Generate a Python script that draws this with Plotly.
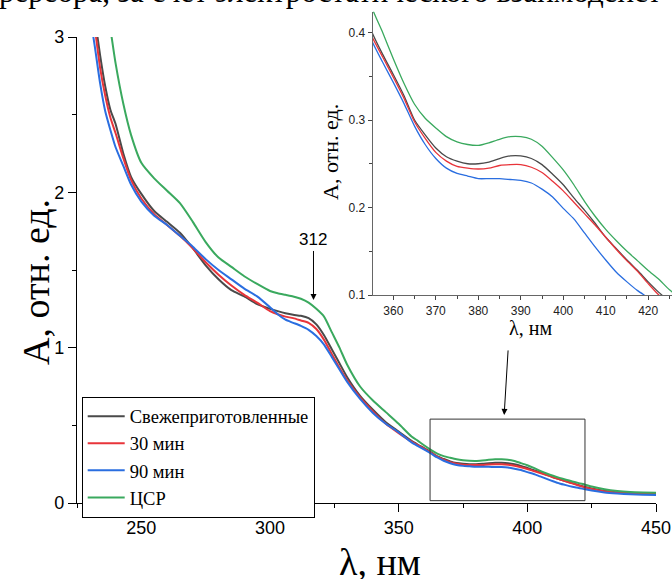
import plotly.graph_objects as go

# ---------------- data ----------------
wavelength = [230, 232, 234, 236, 238, 240, 243, 246, 250, 255, 260, 265, 270, 275, 280, 285, 290, 295,
              300, 303, 306, 309, 312, 315, 318, 321, 324, 327, 330, 335, 340, 345, 350,
              355, 357.5, 360, 362.5, 365, 367.5, 370, 372.5, 375, 377.5, 380, 382.5, 385, 387.5,
              390, 392.5, 395, 397.5, 400, 402.5, 405, 407.5, 410, 412.5, 415, 417.5, 420, 422.5,
              425, 430, 435, 440, 445, 450]

fresh = [3.40, 3.12, 2.88, 2.68, 2.53, 2.44, 2.25, 2.10, 1.99, 1.88, 1.81, 1.74, 1.64, 1.53, 1.44, 1.37, 1.33, 1.28,
         1.25, 1.235, 1.222, 1.212, 1.205, 1.19, 1.15, 1.08, 0.99, 0.90, 0.81, 0.69, 0.60, 0.52, 0.46,
         0.40, 0.375, 0.352, 0.328, 0.300, 0.283, 0.268, 0.258, 0.253, 0.250, 0.250, 0.252, 0.256, 0.259,
         0.259, 0.256, 0.249, 0.238, 0.226, 0.211, 0.197, 0.182, 0.166, 0.153, 0.140, 0.128, 0.115, 0.103,
         0.093, 0.077, 0.068, 0.063, 0.060, 0.058]

min30 = [3.30, 3.05, 2.80, 2.62, 2.48, 2.38, 2.22, 2.08, 1.96, 1.86, 1.79, 1.72, 1.64, 1.55, 1.47, 1.40, 1.34, 1.29,
         1.235, 1.215, 1.20, 1.19, 1.175, 1.16, 1.12, 1.05, 0.96, 0.87, 0.79, 0.68, 0.59, 0.51, 0.45,
         0.395, 0.372, 0.349, 0.325, 0.298, 0.279, 0.263, 0.253, 0.247, 0.245, 0.244, 0.245, 0.248, 0.249,
         0.249, 0.246, 0.240, 0.230, 0.219, 0.206, 0.193, 0.180, 0.166, 0.152, 0.139, 0.127, 0.113, 0.100,
         0.091, 0.076, 0.068, 0.063, 0.061, 0.059]

min90 = [3.15, 2.93, 2.70, 2.52, 2.40, 2.29, 2.17, 2.05, 1.94, 1.85, 1.79, 1.72, 1.65, 1.57, 1.50, 1.44, 1.38, 1.33,
         1.26, 1.215, 1.18, 1.16, 1.14, 1.115, 1.075, 1.02, 0.94, 0.86, 0.78, 0.67, 0.58, 0.51, 0.455,
         0.39, 0.366, 0.343, 0.319, 0.293, 0.272, 0.256, 0.245, 0.239, 0.236, 0.233, 0.233, 0.233, 0.232,
         0.231, 0.228, 0.221, 0.212, 0.199, 0.187, 0.171, 0.155, 0.140, 0.126, 0.115, 0.105, 0.097, 0.088,
         0.080, 0.068, 0.061, 0.056, 0.053, 0.051]

csr = [4.00, 3.70, 3.45, 3.25, 3.05, 2.83, 2.57, 2.37, 2.19, 2.09, 2.01, 1.93, 1.81, 1.68, 1.58, 1.52, 1.46, 1.41,
       1.365, 1.35, 1.34, 1.33, 1.315, 1.29, 1.25, 1.20, 1.10, 1.00, 0.89, 0.75, 0.66, 0.585, 0.51,
       0.428, 0.40, 0.37, 0.342, 0.318, 0.302, 0.291, 0.281, 0.275, 0.272, 0.271, 0.274, 0.278, 0.281,
       0.281, 0.278, 0.270, 0.257, 0.243, 0.226, 0.207, 0.190, 0.175, 0.162, 0.150, 0.139, 0.128, 0.118,
       0.106, 0.088, 0.077, 0.071, 0.068, 0.066]

series_names = ["Свежеприготовленные", "30 мин", "90 мин", "ЦСР"]
series_values = [fresh, min30, min90, csr]
series_colors = ["#4a4a4a", "#e8343a", "#2a6ee0", "#3aa95e"]

main_xticks = [250, 300, 350, 400, 450]
main_yticks = [0, 1, 2, 3]
inset_xticks = [360, 370, 380, 390, 400, 410, 420]
inset_yticks = [0.1, 0.2, 0.3, 0.4]

# ---------------- figure ----------------
W, H = 672, 579
ML, MR, MT, MB = 77, 0, 10, 76
PW, PH = W - ML - MR, H - MT - MB   # 595 x 493


def px(x):   # window pixel -> paper fraction
    return (x - ML) / PW


def py(y):
    return (H - MB - y) / PH


fig = go.Figure()
for name, vals, col in zip(series_names, series_values, series_colors):
    fig.add_trace(go.Scatter(x=wavelength, y=vals, name=name, mode="lines",
                             line=dict(color=col, width=2, shape="spline", smoothing=0.6),
                             xaxis="x", yaxis="y"))
for name, vals, col in zip(series_names, series_values, series_colors):
    fig.add_trace(go.Scatter(x=wavelength, y=vals, name=name, mode="lines", showlegend=False,
                             line=dict(color=col, width=1.3, shape="spline", smoothing=0.6),
                             xaxis="x2", yaxis="y2"))

tickfont_main = dict(family="Liberation Sans, Arial", size=18, color="black")
tickfont_inset = dict(family="Liberation Sans, Arial", size=12, color="#222")

fig.update_layout(
    width=W, height=H,
    margin=dict(l=ML, r=MR, t=MT, b=MB, autoexpand=False),
    paper_bgcolor="white", plot_bgcolor="rgba(0,0,0,0)",
    xaxis=dict(domain=[0, px(656)], range=[225, 450], tickvals=main_xticks, automargin=False,
               showline=True, linecolor="black", linewidth=1.3, ticks="outside", ticklen=8,
               tickwidth=1.3, tickcolor="black", showgrid=False, zeroline=False,
               tickfont=tickfont_main, anchor="y",
               minor=dict(ticks="outside", ticklen=4, tickwidth=1.3, tickcolor="black",
                          tick0=0, dtick=25, showgrid=False)),
    yaxis=dict(domain=[0, py(37)], range=[0, 3], tickvals=main_yticks, automargin=False,
               showline=True, linecolor="black", linewidth=1.3, ticks="outside", ticklen=8,
               tickwidth=1.3, tickcolor="black", showgrid=False, zeroline=False,
               tickfont=tickfont_main, anchor="x",
               minor=dict(ticks="outside", ticklen=4, tickwidth=1.3, tickcolor="black",
                          tick0=0, dtick=0.5, showgrid=False)),
    xaxis2=dict(domain=[px(372.7), 1.0], range=[355.15, 425.6], tickvals=inset_xticks, automargin=False,
                showline=True, linecolor="#666", linewidth=1.2, ticks="outside", ticklen=4,
                tickwidth=1, tickcolor="#444", showgrid=False, zeroline=False,
                tickfont=tickfont_inset, anchor="y2",
                minor=dict(ticks="outside", ticklen=2.5, tickwidth=1, tickcolor="#444",
                           tick0=0, dtick=5, showgrid=False)),
    yaxis2=dict(domain=[py(295), py(11.7)], range=[0.1, 0.4238], tickvals=inset_yticks,
                tickformat=".1f", automargin=False,
                showline=True, linecolor="#666", linewidth=1.2, ticks="outside", ticklen=4,
                tickwidth=1, tickcolor="#444", showgrid=False, zeroline=False,
                tickfont=tickfont_inset, anchor="x2",
                minor=dict(ticks="outside", ticklen=2.5, tickwidth=1, tickcolor="#444",
                           tick0=0, dtick=0.05, showgrid=False)),
    legend=dict(x=px(81.7), y=py(396.7), xanchor="left", yanchor="top",
                bgcolor="white", bordercolor="black", borderwidth=1,
                font=dict(family="Liberation Serif, Times New Roman", size=18.5, color="black"),
                tracegroupgap=0, itemwidth=37),
    showlegend=True,
)

serif = "Liberation Serif, Times New Roman"
annotations = [
    # cut-off line of document text above the chart
    dict(text="ререора, за счет электростатического взаимодейст", xref="paper", yref="paper",
         x=px(-3), y=py(11), xanchor="left", yanchor="bottom", showarrow=False,
         font=dict(family=serif, size=31, color="black")),
    # main axis titles
    dict(text="λ, нм", xref="paper", yref="paper", x=px(380), y=py(562),
         xanchor="center", yanchor="middle", showarrow=False,
         font=dict(family=serif, size=38, color="black")),
    dict(text="А, отн. ед.", xref="paper", yref="paper", x=px(36), y=py(282),
         xanchor="center", yanchor="middle", showarrow=False, textangle=-90,
         font=dict(family=serif, size=38, color="black")),
    # inset axis titles
    dict(text="λ, нм", xref="paper", yref="paper", x=px(530), y=py(328),
         xanchor="center", yanchor="middle", showarrow=False,
         font=dict(family=serif, size=20, color="black")),
    dict(text="А, отн. ед.", xref="paper", yref="paper", x=px(331), y=py(152),
         xanchor="center", yanchor="middle", showarrow=False, textangle=-90,
         font=dict(family=serif, size=22, color="black")),
    # 312 arrow
    dict(text="312", xref="x", yref="y", x=316.9, y=1.307, ax=0, ay=-60,
         showarrow=True, arrowhead=2, arrowsize=1.2, arrowwidth=1, arrowcolor="black",
         font=dict(family="Liberation Sans, Arial", size=17, color="black")),
    # arrow from inset to zoom box
    dict(text="", xref="x", yref="y", x=391.0, y=0.567, ax=4, ay=-66,
         showarrow=True, arrowhead=2, arrowsize=1.2, arrowwidth=1, arrowcolor="black",
         standoff=0, startstandoff=0),
]
fig.update_layout(annotations=annotations)

fig.add_shape(type="rect", xref="x", yref="y", x0=362.2, x1=422.4, y0=0.015, y1=0.54,
              line=dict(color="#333", width=1), fillcolor="rgba(0,0,0,0)")

fig.write_html("out.html", config={"displayModeBar": False},
               post_script="document.body.style.margin='0px';")
